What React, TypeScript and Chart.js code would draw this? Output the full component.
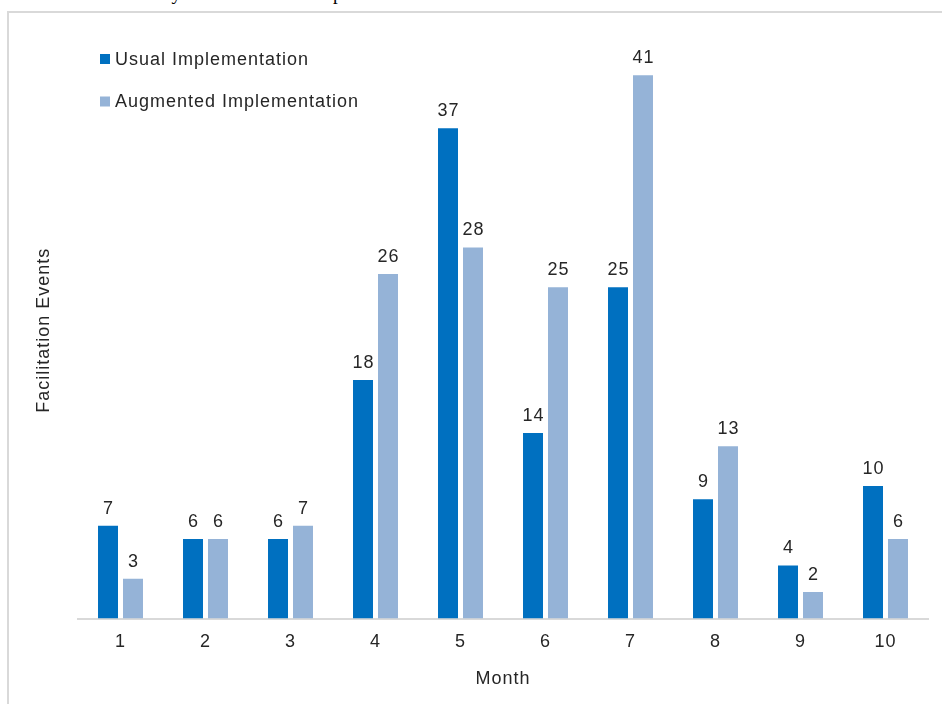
import React, { useEffect, useRef } from "react";
import { Chart, registerables } from "chart.js";

Chart.register(...registerables);

const months = ["1", "2", "3", "4", "5", "6", "7", "8", "9", "10"];
const usualValues = [7, 6, 6, 18, 37, 14, 25, 9, 4, 10];
const augmentedValues = [3, 6, 7, 26, 28, 25, 41, 13, 2, 6];
const seriesNames = ["Usual Implementation", "Augmented Implementation"];
const seriesColors = ["#0070C0", "#95B3D7"];
const xTitle = "Month";
const yTitle = "Facilitation Events";
const caption = "events over the study duration in each implementation arm.";

const FONT = "'Liberation Sans', Arial, sans-serif";
const TEXT = "#262626";

const spacingPlugin = {
  id: "spacing",
  beforeDraw(chart: any) {
    chart.ctx.letterSpacing = "1px";
  },
};

const valueLabels = {
  id: "valueLabels",
  afterDatasetsDraw(chart: any) {
    const ctx = chart.ctx;
    ctx.save();
    ctx.letterSpacing = "1px";
    ctx.font = `18px ${FONT}`;
    ctx.fillStyle = TEXT;
    ctx.textAlign = "center";
    ctx.textBaseline = "alphabetic";
    chart.data.datasets.forEach((ds: any, di: number) => {
      const meta = chart.getDatasetMeta(di);
      meta.data.forEach((el: any, i: number) => {
        ctx.fillText(String(ds.data[i]), el.x + 0.5, el.y - 12);
      });
    });
    ctx.restore();
  },
};

const boxLegend = {
  id: "boxLegend",
  afterDraw(chart: any) {
    const ctx = chart.ctx;
    const { left, top } = chart.chartArea;
    ctx.save();
    ctx.letterSpacing = "1px";
    ctx.font = `18px ${FONT}`;
    ctx.textAlign = "left";
    ctx.textBaseline = "middle";
    chart.data.datasets.forEach((ds: any, i: number) => {
      const cy = top + 17 + i * 42.5;
      const bx = left + 22;
      ctx.fillStyle = ds.backgroundColor;
      ctx.fillRect(bx, cy - 5, 10, 10);
      ctx.fillStyle = TEXT;
      ctx.fillText(ds.label, bx + 15, cy + 1);
    });
    ctx.restore();
  },
};

export default function App() {
  const ref = useRef<HTMLCanvasElement | null>(null);

  useEffect(() => {
    if (!ref.current) return;
    const chart = new Chart(ref.current, {
      type: "bar",
      data: {
        labels: months,
        datasets: [
          {
            label: seriesNames[0],
            data: usualValues,
            backgroundColor: seriesColors[0],
            categoryPercentage: 0.588,
            barPercentage: 0.8,
          },
          {
            label: seriesNames[1],
            data: augmentedValues,
            backgroundColor: seriesColors[1],
            categoryPercentage: 0.588,
            barPercentage: 0.8,
          },
        ],
      },
      options: {
        animation: false,
        responsive: false,
        devicePixelRatio: 1,
        layout: { padding: { left: 20, right: 14, top: 42, bottom: 8 } },
        plugins: {
          legend: { display: false },
          tooltip: { enabled: false },
        },
        scales: {
          x: {
            grid: { display: false },
            border: { display: true, color: "#d9d9d9", width: 2 },
            ticks: {
              color: TEXT,
              padding: 4.5,
              font: { family: FONT, size: 18 },
            },
            title: {
              display: true,
              text: xTitle,
              color: TEXT,
              font: { family: FONT, size: 18 },
              padding: { top: 11.1, bottom: 6.2 },
            },
          },
          y: {
            min: 0,
            max: 43.5,
            grid: { display: false },
            border: { display: false },
            ticks: { display: false },
            title: {
              display: true,
              text: yTitle,
              color: TEXT,
              font: { family: FONT, size: 18 },
              padding: { top: 13.2, bottom: 15.2 },
            },
          },
        },
      },
      plugins: [spacingPlugin, valueLabels, boxLegend],
    });
    return () => chart.destroy();
  }, []);

  return (
    <div
      style={{
        position: "absolute",
        left: 0,
        top: 0,
        width: 942,
        height: 704,
        overflow: "hidden",
        background: "#fff",
      }}
    >
      <div
        style={{
          position: "absolute",
          left: 20,
          top: -17,
          fontFamily: "'Liberation Serif', 'Times New Roman', serif",
          fontSize: 19,
          whiteSpace: "nowrap",
          color: "#000",
        }}
      >
        {caption}
      </div>
      <div
        style={{
          position: "absolute",
          left: 7,
          top: 11,
          width: 960,
          height: 720,
          border: "2px solid #d9d9d9",
          boxSizing: "border-box",
        }}
      />
      <canvas
        ref={ref}
        width={942}
        height={704}
        style={{ position: "absolute", left: 0, top: 0, width: 942, height: 704 }}
      />
    </div>
  );
}
